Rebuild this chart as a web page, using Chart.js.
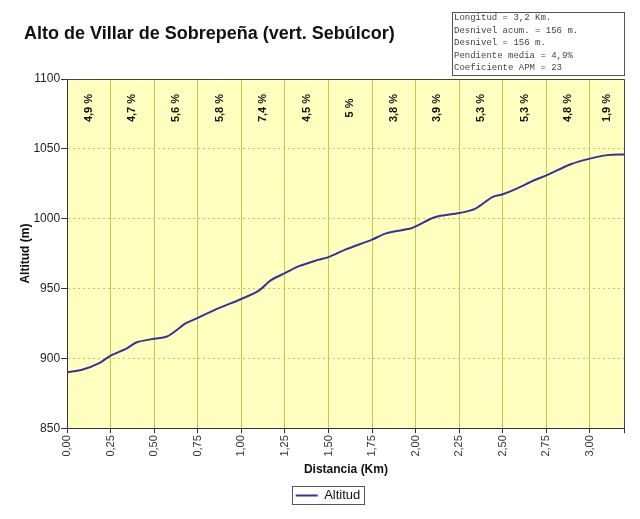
<!DOCTYPE html>
<html>
<head>
<meta charset="utf-8">
<script src="https://cdn.jsdelivr.net/npm/chart.js@4/dist/chart.umd.min.js"></script>
<style>
  html, body { margin: 0; padding: 0; background: #fff; }
  #wrap { width: 640px; height: 519px; }
</style>
</head>
<body>
<div id="wrap"><canvas id="perfil" width="640" height="519"></canvas></div>
<script>
// Perfil: distancia (km) y altitud (m)
const distancias = [0, 0.09, 0.19, 0.25, 0.34, 0.40, 0.50, 0.57, 0.61, 0.68, 0.75, 0.87, 1.00, 1.10, 1.17, 1.25, 1.33, 1.44, 1.50, 1.60, 1.75, 1.83, 1.97, 2.00, 2.11, 2.25, 2.34, 2.44, 2.50, 2.58, 2.68, 2.75, 2.89, 3.00, 3.10, 3.20];
const altitudes = [890, 892, 897, 902, 907, 911.5, 914, 915.5, 918.5, 925, 929, 936, 942.5, 948.5, 956, 961, 966, 970.5, 972.5, 978, 985, 989.5, 993, 994.5, 1001, 1004, 1007, 1015.5, 1017.5, 1021.5, 1027.5, 1031, 1039, 1043, 1045.5, 1046];

// Tramos y pendiente de cada tramo
const tramos = [0, 0.25, 0.5, 0.75, 1.0, 1.25, 1.5, 1.75, 2.0, 2.25, 2.5, 2.75, 3.0, 3.2];
const pendientes = ['4,9 %', '4,7 %', '5,6 %', '5,8 %', '7,4 %', '4,5 %', '5 %', '3,8 %', '3,9 %', '5,3 %', '5,3 %', '4,8 %', '1,9 %'];

const titulo = 'Alto de Villar de Sobrepeña (vert. Sebúlcor)';
const datosPuerto = [
  'Longitud = 3,2 Km.',
  'Desnivel acum. = 156 m.',
  'Desnivel = 156 m.',
  'Pendiente media = 4,9%',
  'Coeficiente APM = 23',
];

const puntos = distancias.map((d, i) => ({ x: d, y: altitudes[i] }));

// fondo amarillo del area de trazado
const fondo = {
  id: 'fondo',
  beforeDraw(chart) {
    const { ctx, chartArea: a } = chart;
    ctx.save();
    ctx.fillStyle = '#FFFFC0';
    ctx.fillRect(a.left, a.top, a.right - a.left, a.bottom - a.top);
    ctx.restore();
  },
};

// la leyenda va un poco a la derecha, como en el original
const moverLeyenda = {
  id: 'moverLeyenda',
  afterLayout(chart) {
    const lg = chart.legend;
    const dx = 6;
    lg.left += dx; lg.right += dx;
    lg.legendHitBoxes.forEach((h) => { h.left += dx; });
  },
};

// porcentajes de cada tramo, texto vertical
const etiquetasTramo = {
  id: 'etiquetasTramo',
  beforeDatasetsDraw(chart) {
    const { ctx, scales } = chart;
    ctx.save();
    ctx.font = 'bold 11px Arial, "Liberation Sans", sans-serif';
    ctx.fillStyle = '#111';
    ctx.textAlign = 'center';
    ctx.textBaseline = 'middle';
    pendientes.forEach((p, i) => {
      const x = (scales.x.getPixelForValue(tramos[i]) + scales.x.getPixelForValue(tramos[i + 1])) / 2;
      ctx.save();
      ctx.translate(x, 108);
      ctx.rotate(-Math.PI / 2);
      ctx.fillText(p, 0, 0);
      ctx.restore();
    });
    ctx.restore();
  },
};

// marco, titulo, cuadro de datos y borde de la leyenda
const adornos = {
  id: 'adornos',
  afterDraw(chart) {
    const { ctx, chartArea: a } = chart;
    ctx.save();
    ctx.strokeStyle = '#444';
    ctx.lineWidth = 1;
    ctx.beginPath();
    ctx.moveTo(Math.round(a.left) + 0.5, Math.round(a.top) + 0.5);
    ctx.lineTo(Math.round(a.right) - 0.5, Math.round(a.top) + 0.5);
    ctx.lineTo(Math.round(a.right) - 0.5, Math.round(a.bottom));
    ctx.stroke();

    ctx.fillStyle = '#111';
    ctx.font = 'bold 18px Arial, "Liberation Sans", sans-serif';
    ctx.textBaseline = 'alphabetic';
    ctx.textAlign = 'left';
    ctx.fillText(titulo, 24, 39);

    ctx.strokeStyle = '#555';
    ctx.strokeRect(452.5, 12.5, 172, 63);
    ctx.fillStyle = '#444';
    ctx.font = '9px "Liberation Mono", "Courier New", monospace';
    ctx.textBaseline = 'middle';
    datosPuerto.forEach((t, i) => ctx.fillText(t, 454, 18 + i * 12.5));

    const hb = chart.legend.legendHitBoxes[0];
    if (hb) {
      ctx.strokeStyle = '#555';
      ctx.strokeRect(Math.round(hb.left) - 3.5, Math.round(hb.top) - 2.5, Math.round(hb.width) + 7, Math.round(hb.height) + 5);
    }
    ctx.restore();
  },
};

new Chart(document.getElementById('perfil'), {
  type: 'line',
  data: {
    datasets: [{
      label: 'Altitud',
      data: puntos,
      borderColor: '#333399',
      backgroundColor: '#333399',
      borderWidth: 2,
      pointRadius: 0,
      tension: 0.3,
      fill: false,
    }],
  },
  options: {
    responsive: false,
    animation: false,
    layout: { padding: { top: 79, left: 16, right: 12, bottom: 7 } },
    plugins: {
      tooltip: { enabled: false },
      legend: {
        position: 'bottom',
        labels: {
          usePointStyle: true,
          pointStyle: 'line',
          pointStyleWidth: 22,
          color: '#111',
          font: { family: 'Arial, "Liberation Sans", sans-serif', size: 13 },
          padding: 5,
        },
      },
    },
    scales: {
      x: {
        type: 'linear',
        min: 0,
        max: 3.2,
        ticks: {
          stepSize: 0.25,
          maxTicksLimit: 20,
          minRotation: 90,
          maxRotation: 90,
          color: '#333',
          font: { family: 'Arial, "Liberation Sans", sans-serif', size: 11 },
          padding: 2,
          callback: (v) => (v > 3.1 ? '' : v.toFixed(2).replace('.', ',')),
        },
        grid: { color: '#C8C850', tickColor: '#333', tickLength: 5 },
        border: { color: '#333' },
        title: {
          display: true,
          text: 'Distancia (Km)',
          color: '#111',
          font: { family: 'Arial, "Liberation Sans", sans-serif', size: 12, weight: 'bold' },
          padding: { top: 4, bottom: 7 },
        },
      },
      y: {
        min: 850,
        max: 1100,
        ticks: {
          stepSize: 50,
          color: '#222',
          font: { family: 'Arial, "Liberation Sans", sans-serif', size: 12 },
          padding: 1,
          callback: (v) => String(v),
        },
        grid: { color: '#C8C850', tickColor: '#333', tickLength: 6 },
        border: { color: '#333', dash: [2, 3] },
        title: {
          display: true,
          text: 'Altitud (m)',
          color: '#111',
          font: { family: 'Arial, "Liberation Sans", sans-serif', size: 12, weight: 'bold' },
          padding: { top: 2, bottom: 0 },
        },
      },
    },
  },
  plugins: [fondo, moverLeyenda, etiquetasTramo, adornos],
});
</script>
</body>
</html>
